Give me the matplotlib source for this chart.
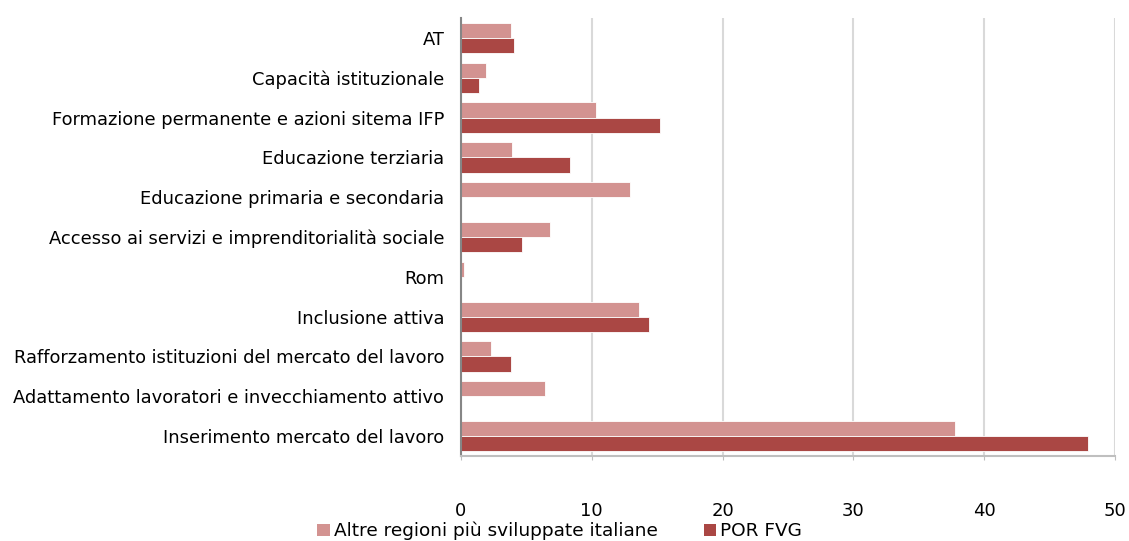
import numpy as np
import matplotlib
matplotlib.use('Agg')
import matplotlib.pyplot as plt
from matplotlib.patches import Patch

categorie = ['AT', 'Capacità istituzionale', 'Formazione permanente e azioni sitema IFP',
             'Educazione terziaria', 'Educazione primaria e secondaria',
             'Accesso ai servizi e imprenditorialità sociale', 'Rom', 'Inclusione attiva',
             'Rafforzamento istituzioni del mercato del lavoro',
             'Adattamento lavoratori e invecchiamento attivo', 'Inserimento mercato del lavoro']
altre_regioni = [3.8, 1.9, 10.3, 3.9, 12.9, 6.8, 0.2, 13.6, 2.3, 6.4, 37.8]
por_fvg = [4.05, 1.4, 15.2, 8.3, 0.0, 4.7, 0.0, 14.4, 3.8, 0.0, 47.9]
nomi_serie = ['Altre regioni più sviluppate italiane', 'POR FVG']

col_chiaro = '#D39391'
col_scuro = '#AA4744'

fig = plt.figure(figsize=(11.29, 5.41), dpi=100)
ax = fig.add_axes([0.4083, 0.1571, 0.5793, 0.8096])

y = np.arange(len(categorie))
h = 0.38
ax.barh(y - h / 2, altre_regioni, height=h, color=col_chiaro, edgecolor='white', linewidth=0.6, zorder=3)
ax.barh(y + h / 2, por_fvg, height=h, color=col_scuro, edgecolor='white', linewidth=0.6, zorder=3)

ax.set_ylim(len(categorie) - 0.5, -0.5)
ax.set_xlim(0, 50)
ax.set_xticks([0, 10, 20, 30, 40, 50])
ax.set_yticks(y)
ax.set_yticklabels(categorie, fontsize=12.9)
ax.tick_params(axis='y', length=0, pad=12)
ax.tick_params(axis='x', length=3, color='#BFBFBF', labelsize=13, pad=30)

ax.grid(axis='x', color='#D9D9D9', linewidth=1.5, zorder=0)
for s in ['top', 'right']:
    ax.spines[s].set_visible(False)
ax.spines['left'].set_color('#868686')
ax.spines['left'].set_linewidth(1.5)
ax.spines['left'].set_zorder(5)
ax.spines['bottom'].set_color('#BFBFBF')
ax.spines['bottom'].set_linewidth(1.5)
ax.spines['bottom'].set_zorder(5)

maniglie = [Patch(facecolor=col_chiaro), Patch(facecolor=col_scuro)]
fig.legend(maniglie, nomi_serie, loc='center', bbox_to_anchor=(0.4956, 0.0185), ncol=2,
           frameon=False, fontsize=13.3, handlelength=0.65, handleheight=0.65,
           handletextpad=0.22, columnspacing=2.5, borderpad=0)

plt.savefig('out.png', dpi=100)
